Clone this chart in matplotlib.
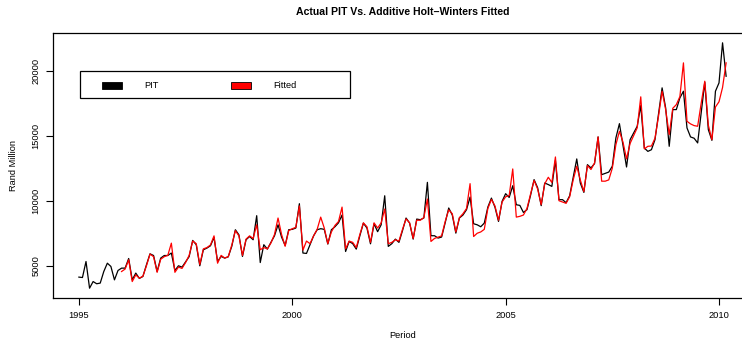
import matplotlib
matplotlib.use("Agg")
import matplotlib.pyplot as plt
from matplotlib.patches import Rectangle
import numpy as np

plt.rcParams['font.family'] = ['Liberation Sans', 'DejaVu Sans']

# Actual PIT (monthly, Jan 1995 - Mar 2010), Rand million
pit = [
    4130, 4100, 5330, 3280, 3790, 3620, 3670, 4560, 5200, 4950, 3920, 4640,
    4820, 4820, 5560, 3920, 4440, 4030, 4180, 5080, 5920, 5790, 4560, 5590,
    5790, 5790, 5980, 4640, 5000, 4900, 5300, 5700, 6950, 6620, 5000, 6230,
    6360, 6540, 7180, 5330, 5720, 5590, 5690, 6500, 7770, 7380, 5720, 7000,
    7250, 7000, 8850, 5250, 6620, 6280, 6800, 7300, 8150, 7200, 6560, 7770,
    7800, 7900, 9770, 5980, 5950, 6620, 7300, 7770, 7850, 7800, 6670, 7770,
    8000, 8300, 8900, 6100, 6870, 6700, 6280, 7300, 8280, 7900, 6690, 8230,
    7620, 8150, 10380, 6490, 6700, 7050, 6800, 7700, 8670, 8280, 7050, 8590,
    8540, 8670, 11410, 7310, 7310, 7130, 7210, 8300, 9440, 8900, 7510, 8670,
    8900, 9310, 10280, 8230, 8150, 8000, 8280, 9510, 10200, 9500, 8410, 9950,
    10540, 10250, 11150, 9690, 9640, 9100, 9310, 10400, 11620, 11000, 9620, 11360,
    11240, 11100, 13100, 10080, 10080, 9850, 10380, 11800, 13210, 11360, 10640, 12770,
    12520, 12850, 14900, 12000, 12100, 12200, 12650, 14820, 15920, 14230, 12590, 14690,
    15210, 15720, 17310, 14050, 13790, 13920, 14690, 16700, 18670, 17130, 14180, 17000,
    17000, 17900, 18410, 15590, 14900, 14800, 14440, 16800, 19100, 15460, 14640, 18410,
    19050, 22130, 19560,
]

# Additive Holt-Winters fitted values (from Jan 1996)
fitted = [
    4560, 4750, 5460, 3790, 4300, 4050, 4200, 5000, 5900, 5700, 4500, 5500,
    5700, 5800, 6740, 4500, 4900, 4800, 5250, 5800, 6900, 6700, 5100, 6300,
    6400, 6600, 7300, 5200, 5800, 5600, 5700, 6600, 7700, 7300, 5800, 7050,
    7300, 7100, 8150, 6230, 6400, 6300, 6750, 7400, 8670, 7400, 6500, 7700,
    7850, 7950, 9600, 6200, 6900, 6700, 7300, 7800, 8740, 7900, 6700, 7600,
    8100, 8400, 9510, 6300, 6900, 6800, 6400, 7400, 8300, 8000, 6800, 8300,
    7900, 8300, 9360, 6700, 6800, 7000, 6900, 7800, 8600, 8300, 7100, 8500,
    8500, 8700, 10130, 6870, 7100, 7200, 7300, 8400, 9300, 9000, 7600, 8700,
    9000, 9400, 11310, 7250, 7500, 7600, 7800, 9400, 10100, 9600, 8500, 9900,
    10300, 10400, 12440, 8740, 8800, 8900, 9400, 10500, 11560, 10900, 9700, 11300,
    11800, 11400, 13360, 10000, 9900, 9800, 10300, 11600, 12650, 11600, 10700, 12700,
    12400, 12900, 14900, 11500, 11500, 11600, 12500, 14300, 15330, 14500, 13210, 14400,
    15000, 15600, 17980, 13980, 14180, 14200, 14800, 16500, 18410, 17000, 15080, 17100,
    17380, 18000, 20590, 16100, 15900, 15770, 15720, 17500, 19180, 15800, 14690, 17200,
    17600, 18700, 20590,
]

pit_start = 1995
fitted_start = 1996
x_ticks = [1995, 2000, 2005, 2010]
y_ticks = [5000, 10000, 15000, 20000]

t_pit = pit_start + np.arange(len(pit)) / 12
t_fit = fitted_start + np.arange(len(fitted)) / 12

W, H = 742, 342
fig = plt.figure(figsize=(W / 100, H / 100), dpi=100)

# plot region in pixels (R style, right edge runs off the canvas)
left, right, top, bottom = 53, 752, 33, 298
ax = fig.add_axes([left / W, (H - bottom) / H, (right - left) / W, (bottom - top) / H])

ax.plot(t_pit, pit, color='black', lw=0.9)
ax.plot(t_fit, fitted, color='red', lw=0.9)

# R-like 4% axis extension
xr = t_pit[-1] - t_pit[0]
ax.set_xlim(t_pit[0] - 0.04 * xr, t_pit[-1] + 0.04 * xr)
yr = max(pit) - min(pit)
ax.set_ylim(min(pit) - 0.04 * yr, max(pit) + 0.04 * yr)

fs = 6.7
ax.set_xticks(x_ticks)
ax.set_xticklabels([str(v) for v in x_ticks], fontsize=fs)
ax.set_yticks(y_ticks)
ax.set_yticklabels([str(v) for v in y_ticks], fontsize=fs, rotation=90, va='center')
ax.tick_params(direction='out', length=7 * 0.72, width=0.8, pad=4)
for s in ax.spines.values():
    s.set_linewidth(0.9)

def px(x, y):
    return x / W, 1 - y / H

fig.text(*px((left + right) / 2, 336), 'Period', fontsize=fs, ha='center', va='center')
fig.text(*px(14, (top + bottom) / 2), 'Rand Million', fontsize=fs, ha='center', va='center',
         rotation=90)
fig.text(*px((left + right) / 2, 12), 'Actual PIT Vs. Additive Holt\u2013Winters Fitted',
         ha='center', va='center', fontsize=7.6, fontweight='bold')

# legend drawn R style
tf = fig.transFigure
x0, y0 = px(80, 98)
fig.patches.append(Rectangle((x0, y0), 270 / W, 27 / H, transform=tf, fill=False,
                             edgecolor='black', lw=0.9))
for hx, col, lab, lx in [(102, 'black', 'PIT', 144), (231, 'red', 'Fitted', 273)]:
    bx, by = px(hx, 89)
    fig.patches.append(Rectangle((bx, by), 20 / W, 7 / H, transform=tf,
                                 facecolor=col, edgecolor='black', lw=0.6))
    tx, ty = px(lx, 85.5)
    fig.text(tx, ty, lab, fontsize=fs, va='center', ha='left')

fig.savefig('out.png', dpi=100)
